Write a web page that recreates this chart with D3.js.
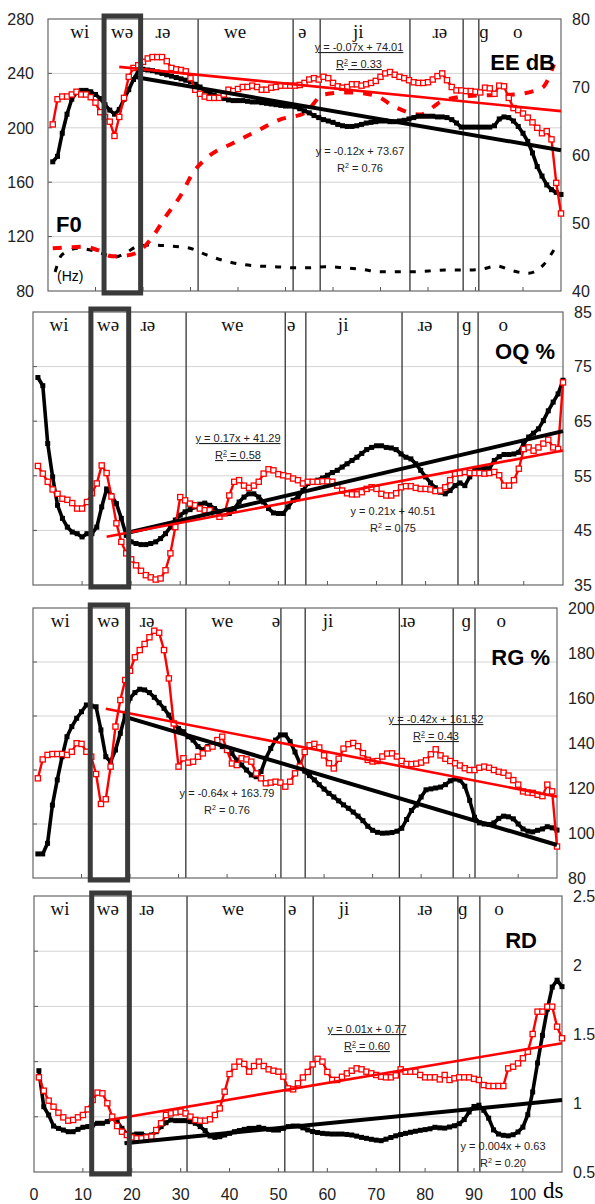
<!DOCTYPE html>
<html>
<head>
<meta charset="utf-8">
<script src="https://cdn.jsdelivr.net/npm/d3@7"></script>
<style>
body { margin: 0; background: #fff; }
svg text { font-family: "Liberation Sans", Arial, sans-serif; }
.ipa { font-family: "Liberation Serif", "DejaVu Serif", serif; font-size: 19px; fill: #111; }
.tick-label { font-size: 16px; fill: #222; }
.eq { font-size: 11px; fill: #222; }
.title { font-size: 22px; font-weight: bold; fill: #000; }
</style>
</head>
<body>
<svg id="chart" width="595" height="1204"></svg>
<script>
// frame numbers (ds) 1..108
const frames = d3.range(1, 109);

// EE dB (right axis of the top panel)
const eeBlack = [59.0,59.8,63.2,66.0,68.2,69.2,69.5,69.5,69.3,68.9,
	68.3,67.4,66.6,66.0,66.7,68.2,69.6,71.1,72.3,72.6,
	72.5,72.4,72.2,72.0,71.8,71.6,71.4,71.2,71.0,70.8,
	70.4,70.0,69.5,69.1,68.8,68.5,68.3,68.1,68.0,68.0,
	68.0,67.9,67.8,67.8,67.7,67.6,67.5,67.4,67.3,67.2,
	67.2,67.1,66.8,66.5,66.2,65.8,65.5,65.2,65.0,64.8,
	64.5,64.3,64.2,64.2,64.3,64.5,64.7,64.8,64.9,65.0,
	65.0,64.9,64.9,65.0,65.1,65.3,65.5,65.7,65.7,65.7,
	65.7,65.6,65.6,65.5,65.2,64.7,64.1,64.1,64.1,64.1,
	64.1,64.1,64.1,64.3,65.3,65.6,65.5,65.0,64.2,63.2,
	62.0,60.3,58.3,56.9,55.6,54.9,54.5,54.2];
const eeRed = [64.5,68.2,68.6,68.6,68.9,69.3,68.9,68.9,68.5,67.7,
	66.3,65.6,64.9,62.8,65.6,68.4,71.5,72.8,73.2,73.7,
	74.2,74.4,74.4,74.4,73.8,72.8,72.6,72.5,72.3,71.3,
	69.6,69.0,68.6,68.4,68.4,68.4,68.9,69.6,69.4,69.7,
	70.0,70.0,70.2,70.0,69.6,69.6,69.9,70.0,70.2,70.2,
	70.2,70.2,70.3,70.6,71.1,71.3,71.1,71.5,71.3,70.6,
	70.1,69.9,70.0,70.4,70.4,70.2,70.4,70.6,70.9,71.5,
	72.0,72.2,71.8,71.5,71.3,71.0,70.7,70.6,70.6,70.7,
	71.1,71.6,72.0,71.0,70.0,69.5,69.5,69.4,69.4,69.3,
	69.2,69.9,69.8,69.0,70.2,70.1,68.4,66.9,66.6,66.1,
	65.5,64.8,64.0,63.2,63.5,62.3,55.9,51.4];

// F0 (Hz), dashed curves, read at the dash positions
const f0BlackX = [1.5,2.9,6.4,10.2,14.1,16.2,19,22.2,26,29.9,33.4,36.6,40.4,43.9,47.8,51.3,
	54.9,58.3,62.2,66.1,70,73.1,76.6,80.1,83.6,87.1,91,94.5,97.6,101.1,104.3,106.7];
const f0Black = [94,106.5,111.4,109,105,107.7,113,113.8,113,111.4,106.5,102.8,99.8,98.4,97.9,97.1,
	97.1,97.9,97.1,95.9,94.2,94.2,94.2,94.7,95.4,95.4,95.9,98.4,95,93,99.2,111.4];
const f0RedX = [1,4,7.5,10.5,13.5,16.5,19.5,21.8,24.8,27.8,30.5,34,39,43.9,48.8,
	54.1,58,63.2,68.8,73,78.3,82.9,88.5,93,98,104,106.5];
const f0Red = [111.4,112,112.6,110,105.5,106,110,118.8,134.8,149.5,166.7,179.5,188.8,197.5,206,
	211,224.5,226,223.8,215.4,209.7,219.6,223.3,224,224.5,229.4,246.6];

// OQ %
const oqBlack = [73.0,71.5,60.9,54.8,49.6,47.2,45.6,44.7,44.4,43.8,
	44.4,44.4,45.6,49.3,52.6,51.4,49.9,47.2,44.1,42.9,
	42.6,42.4,42.4,42.6,42.9,43.5,44.4,45.6,46.9,47.8,
	48.4,48.8,49.3,49.8,50.0,49.6,49.0,48.4,48.1,48.1,
	49.0,50.2,51.1,51.7,51.7,51.1,50.2,49.0,48.2,48.1,
	48.1,49.3,50.5,51.1,52.3,53.6,53.9,54.2,54.6,55.1,
	55.6,56.0,56.6,57.2,57.8,58.4,59.1,59.8,60.2,60.5,
	60.5,60.2,60.1,59.8,59.0,58.4,58.1,57.2,56.0,54.8,
	53.7,52.8,52.0,51.7,52.3,53.2,53.7,53.2,54.8,56.0,
	56.1,56.4,56.3,57.8,58.5,58.9,58.9,59.0,59.3,60.9,
	62.1,62.8,63.6,65.1,66.9,68.5,70.0,72.5];
const oqRed = [56.8,55.4,53.9,52.5,51.7,50.8,50.6,50.0,49.0,49.0,
	50.2,51.8,53.6,56.9,55.5,51.2,46.3,42.9,40.8,39.7,
	38.6,37.6,36.8,36.4,36.0,36.2,37.7,40.8,45.6,51.1,
	50.5,49.9,49.6,49.0,48.7,48.7,48.1,47.5,48.1,51.4,
	53.9,54.2,53.2,52.8,53.2,53.9,55.4,56.2,56.0,55.3,
	55.1,54.9,54.5,54.2,53.6,53.9,53.9,53.9,54.0,54.0,
	53.9,53.2,52.3,51.8,51.6,51.6,52.0,52.6,52.9,52.6,
	51.7,51.4,51.4,51.8,52.9,53.1,53.1,52.8,52.6,52.6,
	52.5,52.2,52.3,52.9,54.2,55.4,55.5,55.7,55.5,55.5,
	55.5,55.4,55.5,55.7,55.1,53.2,53.2,54.2,56.3,59.9,
	60.2,59.6,60.2,60.9,61.6,60.2,59.9,72.1];

// RG %
const rgBlack = [90.7,90.7,95.4,112.4,123.6,133.9,142.8,147.3,151.0,153.9,
	156.9,156.4,156.1,145.8,133.9,131.7,136.9,144.3,152.4,159.9,
	162.4,163.9,163.6,162.4,160.3,157.9,155.4,152.4,148.7,146.5,
	145.0,142.8,141.3,138.4,136.9,138.4,139.1,139.9,138.4,137.6,
	135.4,132.4,130.2,128.0,125.8,125.0,127.3,133.2,137.6,141.3,
	143.6,143.6,140.6,136.0,131.0,127.5,125.5,123.6,121.5,119.5,
	117.6,116.0,114.3,112.5,111.0,109.3,107.5,105.5,103.0,101.2,
	100.3,99.9,100.0,100.2,100.8,102.1,106.0,110.0,112.4,116.0,
	119.2,119.6,120.0,120.4,121.5,123.2,124.0,123.5,120.8,114.5,
	107.0,104.5,104.0,103.8,104.5,106.5,107.5,107.2,106.3,104.0,
	101.8,100.8,100.5,101.2,101.8,102.8,102.3,101.3];
const rgRed = [124.3,132.7,134.7,135.1,135.1,135.1,134.7,136.1,139.9,139.6,
	136.1,133.9,126.2,112.9,115.0,129.5,147.3,159.1,168.0,172.1,
	178.1,181.3,184.0,187.0,189.9,189.0,181.3,168.7,148.7,129.5,
	133.2,131.3,131.7,133.9,135.4,137.6,138.4,141.3,142.8,136.9,
	130.9,130.2,133.2,132.7,131.7,126.5,124.3,122.1,122.4,122.8,
	122.4,120.6,122.8,126.5,129.5,136.0,139.0,139.6,138.0,134.5,
	131.0,128.7,133.0,137.5,139.5,140.0,138.6,135.5,132.5,131.8,
	132.0,134.0,135.3,135.4,134.0,132.0,130.7,130.6,130.8,131.3,
	132.3,135.0,137.2,134.5,133.0,132.0,131.0,130.0,128.8,128.0,
	128.0,129.0,129.5,129.0,128.0,127.2,126.8,125.5,123.5,121.5,
	118.5,118.0,117.8,117.0,116.4,121.5,118.5,94.0];

// RD
const rdBlack = [1.234,0.973,0.913,0.833,0.816,0.804,0.792,0.792,0.809,0.824,
	0.829,0.841,0.853,0.853,0.865,0.889,0.865,0.816,0.775,0.768,
	0.775,0.775,0.761,0.768,0.792,0.829,0.857,0.877,0.872,0.872,
	0.872,0.865,0.853,0.829,0.800,0.761,0.751,0.756,0.768,0.780,
	0.792,0.800,0.809,0.816,0.816,0.824,0.816,0.809,0.804,0.804,
	0.816,0.829,0.833,0.833,0.820,0.805,0.793,0.786,0.780,0.777,
	0.775,0.775,0.775,0.772,0.768,0.760,0.751,0.744,0.737,0.731,
	0.727,0.738,0.750,0.762,0.772,0.780,0.788,0.795,0.802,0.807,
	0.813,0.824,0.820,0.818,0.826,0.835,0.850,0.880,0.935,0.975,
	0.984,0.947,0.890,0.805,0.775,0.766,0.762,0.770,0.790,0.825,
	0.915,1.080,1.290,1.490,1.680,1.840,1.890,1.843];
const rdRed = [1.186,1.089,1.017,0.973,0.930,0.896,0.872,0.877,0.896,0.913,
	0.954,1.022,1.075,1.070,0.998,0.901,0.833,0.792,0.768,0.751,
	0.744,0.744,0.751,0.756,0.804,0.853,0.913,0.925,0.932,0.937,
	0.925,0.901,0.877,0.872,0.872,0.882,0.913,0.961,1.082,1.210,
	1.263,1.300,1.283,1.227,1.268,1.300,1.268,1.244,1.234,1.227,
	1.191,1.106,1.099,1.143,1.185,1.225,1.280,1.320,1.300,1.225,
	1.167,1.167,1.190,1.215,1.234,1.251,1.244,1.227,1.215,1.203,
	1.191,1.186,1.186,1.200,1.244,1.227,1.227,1.227,1.203,1.186,
	1.186,1.186,1.171,1.203,1.167,1.179,1.186,1.186,1.186,1.175,
	1.167,1.130,1.123,1.123,1.123,1.123,1.251,1.263,1.287,1.324,
	1.372,1.500,1.662,1.662,1.698,1.698,1.553,1.469];

// trend lines: [slope, intercept, first frame]
const eeTrendBlack = [-0.12, 73.67, 18];
const eeTrendRed = [-0.07, 74.01, 15];
const oqTrendBlack = [0.21, 40.51, 19.5];
const oqTrendRed = [0.17, 41.29, 15];
const rgTrendBlack = [-0.64, 163.79, 19];
const rgTrendRed = [-0.42, 161.52, 15];
const rdTrendBlack = [0.0035, 0.643, 18.5];
const rdTrendRed = [0.006, 0.785, 15.4];

// segment labels and boundaries (in ds)
const syllables = ["wi", "wə", "ɹə", "we", "ə", "ji", "ɹə", "ɡ", "o"];
const syllablePos = [
	[6.7, 15.6, 24.2, 39.4, 53.5, 65.3, 82.5, 91.8, 98.9],
	[5.3, 15.3, 23.4, 40.6, 52.6, 63.2, 79.9, 88.4, 95.8],
	[5.6, 15.5, 23.5, 39.0, 50.1, 60.8, 77.3, 89.3, 96.5],
	[5.3, 15.1, 23.1, 40.7, 52.8, 63.4, 80.0, 87.7, 95.1]
];
const boundaries = [
	[31.6, 51.6, 57.3, 76.2, 87.4, 90.7],
	[31.2, 51.4, 55.6, 75.2, 86.6, 90.7],
	[31.5, 51.1, 56.1, 75.5, 86.6, 91.1],
	[31.3, 51.3, 57.1, 74.8, 86.7, 91.2]
];
const boxRange = [11.8, 19.5];

const xTickLabels = [0, 10, 20, 30, 40, 50, 60, 70, 80, 90, 100];

const svg = d3.select("#chart");

function drawSeries(g, x, y, values, color) {
	let pts = values.map(function(v, i) { return [frames[i], v]; });
	let line = d3.line().x(d => x(d[0])).y(d => y(d[1]));
	let black = color === "black";
	let size = black ? 5 : 5.2;
	g.append("path")
		.attr("d", line(pts))
		.attr("fill", "none")
		.attr("stroke", black ? "#000" : "#ff0000")
		.attr("stroke-width", black ? 3.6 : 2.4)
		.attr("stroke-linejoin", "round");
	g.selectAll(null)
		.data(pts)
		.enter()
		.append("rect")
		.attr("x", d => x(d[0]) - size / 2)
		.attr("y", d => y(d[1]) - size / 2)
		.attr("width", size)
		.attr("height", size)
		.attr("fill", black ? "#000" : "#fff")
		.attr("stroke", black ? "none" : "#ff0000")
		.attr("stroke-width", 1.3);
}

function drawTrend(g, x, y, trend, color) {
	let ends = [trend[2], 108];
	g.append("line")
		.attr("x1", x(ends[0]))
		.attr("y1", y(trend[0] * ends[0] + trend[1]))
		.attr("x2", x(ends[1]))
		.attr("y2", y(trend[0] * ends[1] + trend[1]))
		.attr("stroke", color === "black" ? "#000" : "#ff0000")
		.attr("stroke-width", color === "black" ? 4 : 2.6);
}

function drawEquation(g, eq) {
	g.append("text")
		.attr("class", "eq")
		.attr("x", eq.x)
		.attr("y", eq.y)
		.attr("text-anchor", "middle")
		.style("text-decoration", eq.underline ? "underline" : "none")
		.text(eq.formula);
	let t2 = g.append("text")
		.attr("class", "eq")
		.attr("x", eq.x)
		.attr("y", eq.y + 17)
		.attr("text-anchor", "middle")
		.style("text-decoration", eq.underline ? "underline" : "none");
	t2.append("tspan").text("R");
	t2.append("tspan").attr("font-size", 7).attr("dy", -4).text("2");
	t2.append("tspan").attr("dy", 4).text(" = " + eq.r2);
}

function drawPanel(p) {
	let x = d3.scaleLinear().domain([0, 108]).range([p.left, p.right]);
	let y = d3.scaleLinear().domain(p.yDomain).range([p.bottom, p.top]);
	let grid = d3.scaleLinear().domain([0, 5]).range([p.bottom, p.top]);
	let g = svg.append("g");

	// horizontal gridlines at five equal steps
	g.selectAll(null)
		.data([1, 2, 3, 4])
		.enter()
		.append("line")
		.attr("x1", p.left).attr("x2", p.right)
		.attr("y1", d => grid(d)).attr("y2", d => grid(d))
		.attr("stroke", "#d4d4d4")
		.attr("stroke-width", 1);

	// bottom ticks
	g.selectAll(null)
		.data(d3.range(10, 108, 10))
		.enter()
		.append("line")
		.attr("x1", d => x(d)).attr("x2", d => x(d))
		.attr("y1", p.bottom).attr("y2", p.bottom - 4)
		.attr("stroke", "#555");

	// left ticks
	g.selectAll(null)
		.data([1, 2, 3, 4])
		.enter()
		.append("line")
		.attr("x1", p.left).attr("x2", p.left + 4)
		.attr("y1", d => grid(d)).attr("y2", d => grid(d))
		.attr("stroke", "#555");

	// segment boundaries
	g.selectAll(null)
		.data(boundaries[p.index])
		.enter()
		.append("line")
		.attr("x1", d => x(d)).attr("x2", d => x(d))
		.attr("y1", p.top).attr("y2", p.bottom)
		.attr("stroke", "#333")
		.attr("stroke-width", 1.3);

	// frame
	g.append("rect")
		.attr("x", p.left).attr("y", p.top)
		.attr("width", p.right - p.left).attr("height", p.bottom - p.top)
		.attr("fill", "none")
		.attr("stroke", "#666")
		.attr("stroke-width", 1.2);

	// right axis
	let yr = p.yRight ? d3.scaleLinear().domain(p.yRight).range([p.bottom, p.top]) : y;
	let rightTicks = p.yRight ? p.yRightTicks : p.yTicks;
	g.selectAll(null)
		.data(rightTicks)
		.enter()
		.append("text")
		.attr("class", "tick-label")
		.attr("x", p.right + 11)
		.attr("y", d => yr(d))
		.attr("dy", "0.36em")
		.text(d => String(d));

	if (p.yRight) {
		// left axis labels (F0)
		g.selectAll(null)
			.data(p.yTicks)
			.enter()
			.append("text")
			.attr("class", "tick-label")
			.attr("x", p.left - 14)
			.attr("y", d => y(d))
			.attr("dy", "0.36em")
			.attr("text-anchor", "end")
			.text(d => String(d));
	}

	// syllable labels
	g.selectAll(null)
		.data(syllables)
		.enter()
		.append("text")
		.attr("class", "ipa")
		.attr("x", (d, i) => x(syllablePos[p.index][i]))
		.attr("y", p.top + 19)
		.attr("text-anchor", "middle")
		.text(d => d);

	// F0 dashed curves
	if (p.f0) {
		let f0Line = d3.line().curve(d3.curveMonotoneX).x(d => x(d[0])).y(d => y(d[1]));
		g.append("path")
			.attr("d", f0Line(f0BlackX.map((v, i) => [v, f0Black[i]])))
			.attr("fill", "none")
			.attr("stroke", "#000")
			.attr("stroke-width", 3)
			.attr("stroke-dasharray", "6,9");
		g.append("path")
			.attr("d", f0Line(f0RedX.map((v, i) => [v, f0Red[i]])))
			.attr("fill", "none")
			.attr("stroke", "#ff0000")
			.attr("stroke-width", 4)
			.attr("stroke-dasharray", "9,10");
	}

	drawSeries(g, x, yr, p.black, "black");
	drawSeries(g, x, yr, p.red, "red");
	drawTrend(g, x, yr, p.trendBlack, "black");
	drawTrend(g, x, yr, p.trendRed, "red");

	// highlighted syllable box
	g.append("rect")
		.attr("x", x(boxRange[0]))
		.attr("y", p.top - 3)
		.attr("width", x(boxRange[1]) - x(boxRange[0]))
		.attr("height", p.bottom - p.top + 5)
		.attr("fill", "none")
		.attr("stroke", "#3a3a3a")
		.attr("stroke-width", 5);

	p.equations.forEach(eq => drawEquation(g, eq));

	p.titles.forEach(function(t) {
		g.append("text")
			.attr("class", "title")
			.attr("x", t.x).attr("y", t.y)
			.attr("text-anchor", t.anchor)
			.style("font-size", t.size ? t.size + "px" : null)
			.style("font-weight", t.size ? "normal" : null)
			.text(t.text);
	});

	return x;
}

const panels = [
	{
		index: 0, left: 48, right: 561, top: 19, bottom: 291,
		yDomain: [80, 280], yTicks: [80, 120, 160, 200, 240, 280],
		yRight: [40, 80], yRightTicks: [40, 50, 60, 70, 80],
		f0: true,
		black: eeBlack, red: eeRed, trendBlack: eeTrendBlack, trendRed: eeTrendRed,
		equations: [
			{ formula: "y = -0.07x + 74.01", r2: "0.33", x: 359, y: 51, underline: true },
			{ formula: "y = -0.12x + 73.67", r2: "0.76", x: 360, y: 155, underline: false }
		],
		titles: [
			{ text: "EE dB", x: 555, y: 70, anchor: "end" },
			{ text: "F0", x: 56, y: 232, anchor: "start" },
			{ text: "(Hz)", x: 57, y: 281, anchor: "start", size: 14 }
		]
	},
	{
		index: 1, left: 33, right: 563, top: 312, bottom: 585,
		yDomain: [35, 85], yTicks: [35, 45, 55, 65, 75, 85],
		black: oqBlack, red: oqRed, trendBlack: oqTrendBlack, trendRed: oqTrendRed,
		equations: [
			{ formula: "y = 0.17x + 41.29", r2: "0.58", x: 238, y: 442, underline: true },
			{ formula: "y = 0.21x + 40.51", r2: "0.75", x: 393, y: 515, underline: false }
		],
		titles: [{ text: "OQ %", x: 555, y: 359, anchor: "end" }]
	},
	{
		index: 2, left: 33, right: 557, top: 608, bottom: 878,
		yDomain: [80, 200], yTicks: [80, 100, 120, 140, 160, 180, 200],
		black: rgBlack, red: rgRed, trendBlack: rgTrendBlack, trendRed: rgTrendRed,
		equations: [
			{ formula: "y = -0.42x + 161.52", r2: "0.43", x: 436, y: 723, underline: true },
			{ formula: "y = -0.64x + 163.79", r2: "0.76", x: 227, y: 797, underline: false }
		],
		titles: [{ text: "RG %", x: 550, y: 665, anchor: "end" }]
	},
	{
		index: 3, left: 34, right: 562, top: 896, bottom: 1172,
		yDomain: [0.5, 2.5], yTicks: [0.5, 1, 1.5, 2, 2.5],
		black: rdBlack, red: rdRed, trendBlack: rdTrendBlack, trendRed: rdTrendRed,
		equations: [
			{ formula: "y = 0.01x + 0.77", r2: "0.60", x: 367, y: 1033, underline: true },
			{ formula: "y = 0.004x + 0.63", r2: "0.20", x: 503, y: 1150, underline: false }
		],
		titles: [{ text: "RD", x: 537, y: 948, anchor: "end" }]
	}
];

let lastX;
panels.forEach(function(p) { lastX = drawPanel(p); });

// x axis labels under the bottom panel
svg.selectAll(null)
	.data(xTickLabels)
	.enter()
	.append("text")
	.attr("class", "tick-label")
	.attr("x", d => lastX(d))
	.attr("y", 1200)
	.attr("text-anchor", "middle")
	.text(d => d);

svg.append("text")
	.attr("x", 543)
	.attr("y", 1198)
	.style("font-family", "'Liberation Serif', serif")
	.style("font-size", "23px")
	.text("ds");
</script>
</body>
</html>
